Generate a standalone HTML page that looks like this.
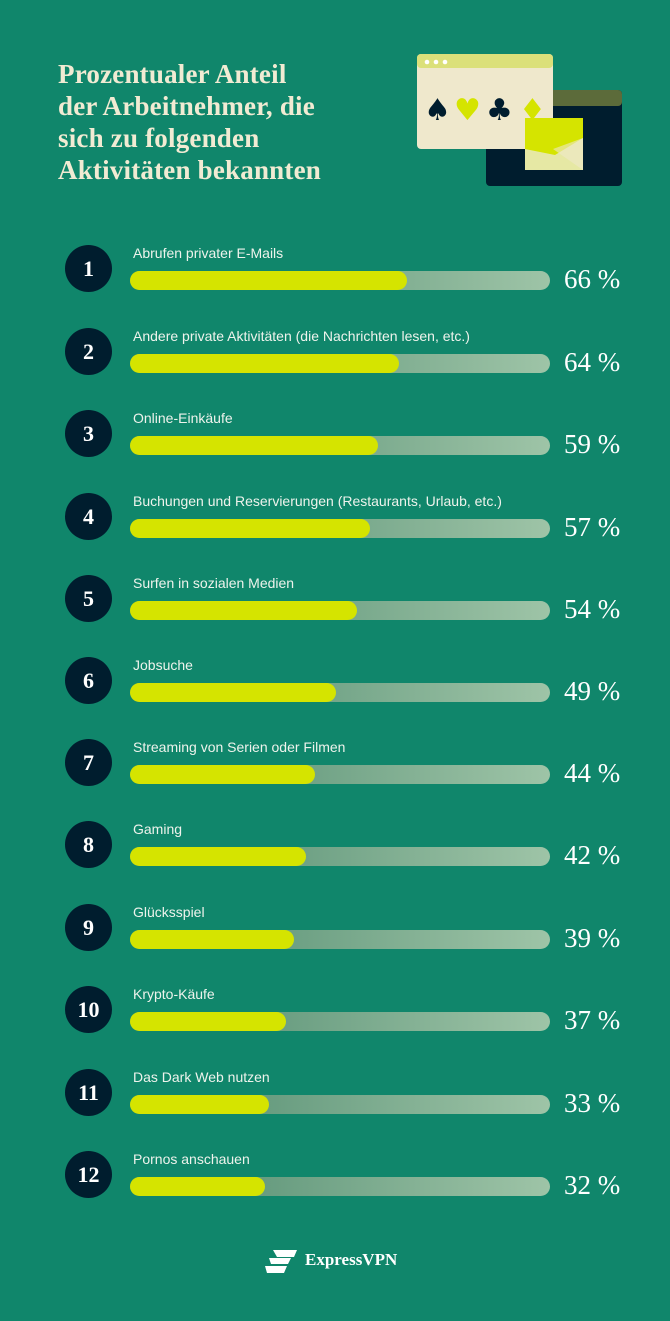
<!DOCTYPE html>
<html><head><meta charset="utf-8"><style>
body{margin:0;background:#10866b;}
.page{position:relative;width:670px;height:1321px;background:#10866b;overflow:hidden;font-family:"Liberation Sans",sans-serif;}
h1{position:absolute;left:58px;top:58px;margin:0;font-family:"Liberation Serif",serif;font-weight:bold;font-size:27px;line-height:32px;color:#f1ebd3;letter-spacing:0.2px;}
.row{position:absolute;left:0;width:670px;height:60px;}
.num{position:absolute;left:65px;top:-23px;width:47px;height:47px;border-radius:50%;background:#001d2e;color:#fff;font-family:"Liberation Serif",serif;font-size:22px;font-weight:bold;text-align:center;line-height:47px;}
.lab{position:absolute;left:133px;top:-23px;font-size:14px;color:#eef3ec;}
.track{position:absolute;left:130px;top:3px;width:420px;height:19px;border-radius:10px;background:linear-gradient(90deg,#4f8a6e,#9ec4a7);}
.fill{position:absolute;left:0;top:0;height:19px;border-radius:10px;background:#d5e400;}
.pct{position:absolute;left:564px;top:-4px;font-family:"Liberation Serif",serif;font-size:27px;color:#fff;}
</style></head><body><div class="page">
<h1>Prozentualer Anteil<br>der Arbeitnehmer, die<br>sich zu folgenden<br>Aktivitäten bekannten</h1>
<svg style="position:absolute;left:400px;top:40px" width="240" height="160" viewBox="0 0 240 160">
<rect x="86" y="50" width="136" height="96" rx="4" fill="#001d2e"/>
<rect x="86" y="50" width="136" height="16" rx="4" fill="#5c6b3a"/>
<rect x="17" y="14" width="136" height="95" rx="4" fill="#efe8cc"/>
<rect x="17" y="14" width="136" height="14" rx="4" fill="#dbe07a"/>
<circle cx="27" cy="22" r="2.3" fill="#fff"/><circle cx="36" cy="22" r="2.3" fill="#fff"/><circle cx="45" cy="22" r="2.3" fill="#fff"/>
<g font-family="DejaVu Sans" font-size="30">
<text x="24" y="80" fill="#001d2e">♠</text>
<text x="54" y="80" fill="#d5e400">♥</text>
<text x="86" y="80" fill="#001d2e">♣</text>
<text x="119" y="80" fill="#d5e400">♦</text>
</g>
<rect x="125" y="78" width="58" height="52" fill="#d5e400"/>
<polygon points="125,109 125,130 183,130 183,98 155,115" fill="#e6e8a4"/>
<polygon points="153,109 183,98 183,130" fill="#efe8cc" opacity="0.6"/>
</svg>
<div class="row" style="top:268px"><div class="num">1</div><div class="lab">Abrufen privater E-Mails</div><div class="track"><div class="fill" style="width:277px"></div></div><div class="pct">66 %</div></div>
<div class="row" style="top:351px"><div class="num">2</div><div class="lab">Andere private Aktivitäten (die Nachrichten lesen, etc.)</div><div class="track"><div class="fill" style="width:269px"></div></div><div class="pct">64 %</div></div>
<div class="row" style="top:433px"><div class="num">3</div><div class="lab">Online-Einkäufe</div><div class="track"><div class="fill" style="width:248px"></div></div><div class="pct">59 %</div></div>
<div class="row" style="top:516px"><div class="num">4</div><div class="lab">Buchungen und Reservierungen (Restaurants, Urlaub, etc.)</div><div class="track"><div class="fill" style="width:240px"></div></div><div class="pct">57 %</div></div>
<div class="row" style="top:598px"><div class="num">5</div><div class="lab">Surfen in sozialen Medien</div><div class="track"><div class="fill" style="width:227px"></div></div><div class="pct">54 %</div></div>
<div class="row" style="top:680px"><div class="num">6</div><div class="lab">Jobsuche</div><div class="track"><div class="fill" style="width:206px"></div></div><div class="pct">49 %</div></div>
<div class="row" style="top:762px"><div class="num">7</div><div class="lab">Streaming von Serien oder Filmen</div><div class="track"><div class="fill" style="width:185px"></div></div><div class="pct">44 %</div></div>
<div class="row" style="top:844px"><div class="num">8</div><div class="lab">Gaming</div><div class="track"><div class="fill" style="width:176px"></div></div><div class="pct">42 %</div></div>
<div class="row" style="top:927px"><div class="num">9</div><div class="lab">Glücksspiel</div><div class="track"><div class="fill" style="width:164px"></div></div><div class="pct">39 %</div></div>
<div class="row" style="top:1009px"><div class="num">10</div><div class="lab">Krypto-Käufe</div><div class="track"><div class="fill" style="width:156px"></div></div><div class="pct">37 %</div></div>
<div class="row" style="top:1092px"><div class="num">11</div><div class="lab">Das Dark Web nutzen</div><div class="track"><div class="fill" style="width:139px"></div></div><div class="pct">33 %</div></div>
<div class="row" style="top:1174px"><div class="num">12</div><div class="lab">Pornos anschauen</div><div class="track"><div class="fill" style="width:135px"></div></div><div class="pct">32 %</div></div>
<svg style="position:absolute;left:265px;top:1248px" width="36" height="26" viewBox="0 0 36 26"><path d="M8 2h24l-3 7H12zM4 10h22l-3 6H6zM0 18h22l-3 7H2z" fill="#fff"/></svg>
<div style="position:absolute;left:305px;top:1250px;font-family:'Liberation Serif',serif;font-weight:bold;font-size:17px;color:#fff;">ExpressVPN</div>
</div></body></html>
